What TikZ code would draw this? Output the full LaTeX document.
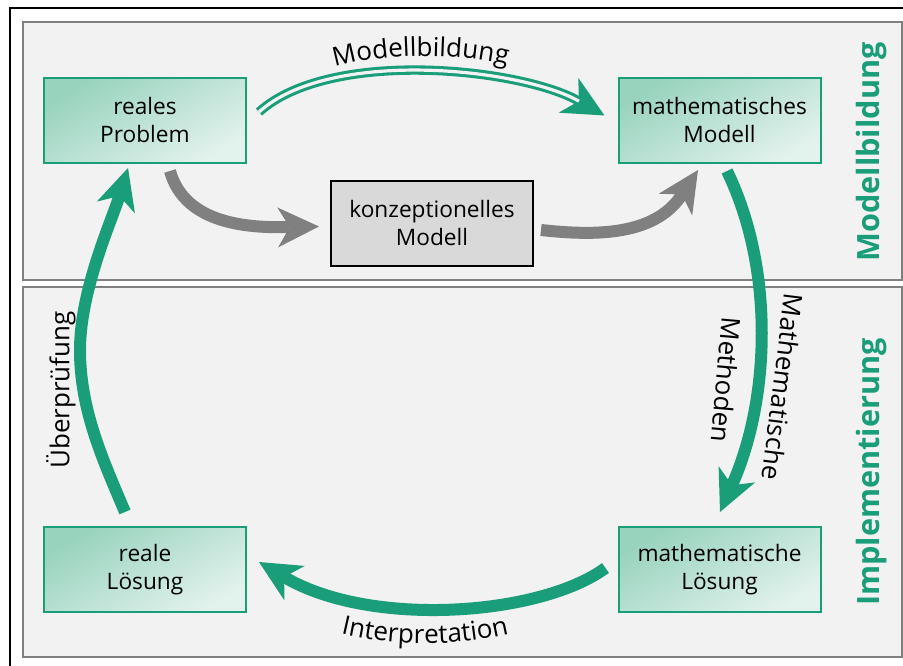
\documentclass[tikz,border=0pt]{standalone}
\usepackage{fontspec}
\setmainfont{Open Sans}
\usetikzlibrary{arrows.meta,decorations.text,calc}

\definecolor{mgreen}{RGB}{26,158,122}
\definecolor{boxA}{RGB}{152,211,190}
\definecolor{boxB}{RGB}{226,242,236}
\definecolor{panelfill}{RGB}{242,242,242}
\definecolor{panelline}{RGB}{128,128,128}
\definecolor{flowgray}{RGB}{128,128,128}
\definecolor{conceptfill}{RGB}{217,217,217}

\newcommand{\flowfont}{\fontsize{19.5}{23}\selectfont}
\newcommand{\stagefont}{\fontsize{17}{21}\selectfont}

\begin{document}
\begin{tikzpicture}[x=0.75pt,y=-0.75pt,
  panel/.style={draw=panelline,fill=panelfill,line width=2pt},
  stage/.style={draw=mgreen,line width=1.5pt,top color=boxA,bottom color=boxB,
    shading angle=30,minimum width=151.5pt,minimum height=63.75pt,
    align=center,inner sep=0pt,font=\stagefont},
  concept/.style={draw=black,line width=1.5pt,fill=conceptfill,
    minimum width=151.5pt,minimum height=63.75pt,
    align=center,inner sep=0pt,font=\stagefont},
  bigtip/.style={-{Stealth[length=31pt,width=30pt,inset=9pt,line width=0pt]}},
  cyclearrow/.style={draw=mgreen,line width=9pt,bigtip},
  grayarrow/.style={draw=flowgray,line width=9pt,bigtip},
  flowlabel/.style={font=\flowfont,inner sep=0pt},
  sidelabel/.style={font=\fontsize{23}{27}\selectfont\bfseries,text=mgreen,rotate=90}
]
\useasboundingbox (0,0) rectangle (903,666);
\fill[white] (0,0) rectangle (903,666);

% outer frame and the two phase panels
\draw[line width=1.2pt] (10,690) -- (10,8) -- (920,8);
\draw[panel] (23,22) rectangle (902,280);
\draw[panel] (23,287) rectangle (902,657);

% phase titles
\node[sidelabel] (tm) at (872,152) {Modellbildung};
\node[sidelabel] (ti) at (872,472) {Implementierung};

% stages
\node[stage] (rp) at (145,120.5) {reales\\Problem};
\node[stage] (mm) at (719.5,120.5) {mathematisches\\Modell};
\node[concept] (km) at (432,223.5) {konzeptionelles\\Modell};
\node[stage] (rl) at (145,569.5) {reale\\Lösung};
\node[stage] (ml) at (719.5,569.5) {mathematische\\Lösung};

% connector end points
\coordinate (mbS) at ($(rp.east)+(12,-8.5)$);
\coordinate (mbE) at ($(mm.west)+(-13,-5)$);
\coordinate (g1S) at ($(rp.south)+(25,7)$);
\coordinate (g1E) at ($(km.west)+(-11,3)$);
\coordinate (g2S) at ($(km.east)+(7,6.5)$);
\coordinate (g2E) at ($(mm.south)+(-21.5,6)$);
\coordinate (mmS) at ($(mm.south)+(7.5,7)$);
\coordinate (mmE) at ($(ml.north)+(0.5,-14)$);
\coordinate (ipS) at ($(ml.west)+(-12,-1.5)$);
\coordinate (ipE) at ($(rl.east)+(12,-7.5)$);
\coordinate (upS) at ($(rl.north)+(-20,-14)$);
\coordinate (upE) at ($(rp.south)+(-17,4)$);

% Modellbildung: double line with arrow head
\draw[mgreen,line width=7pt,bigtip]
  (mbS) .. controls (330,48) and (520,68) .. (mbE);
\draw[panelfill,line width=2.4pt,shorten >=22pt]
  (mbS) .. controls (330,48) and (520,68) .. (mbE);
\path[decorate,decoration={text along path,text align=center,
  text={|\flowfont|Modellbildung}}]
  (326,70) .. controls (378,52) and (462,52) .. (516,67);

% path through the conceptual model
\draw[grayarrow] (g1S) .. controls (185,225) and (250,228) .. (g1E);
\draw[grayarrow] (g2S) .. controls (595,236) and (655,236) .. (g2E);

% mathematical methods
\draw[cyclearrow] (mmS) .. controls (775,270) and (770,400) .. (mmE);
\node[flowlabel,rotate=-97] (lm1) at (783,387) {Mathematische};
\node[flowlabel,rotate=-95] (lm2) at (726,380) {Methoden};

% interpretation
\draw[cyclearrow] (ipS) .. controls (540,616) and (370,628) .. (ipE);
\path[decorate,decoration={text along path,text align=center,
  text={|\flowfont|Interpretation}}]
  (326,630) .. controls (390,648) and (460,648) .. (524,630);

% validation
\draw[cyclearrow] (upS) .. controls (103,460) and (80,410) .. (80,350)
  .. controls (80,290) and (112,220) .. (upE);
\node[flowlabel,rotate=90] (lu) at (61,390) {Überprüfung};
\end{tikzpicture}
\end{document}
